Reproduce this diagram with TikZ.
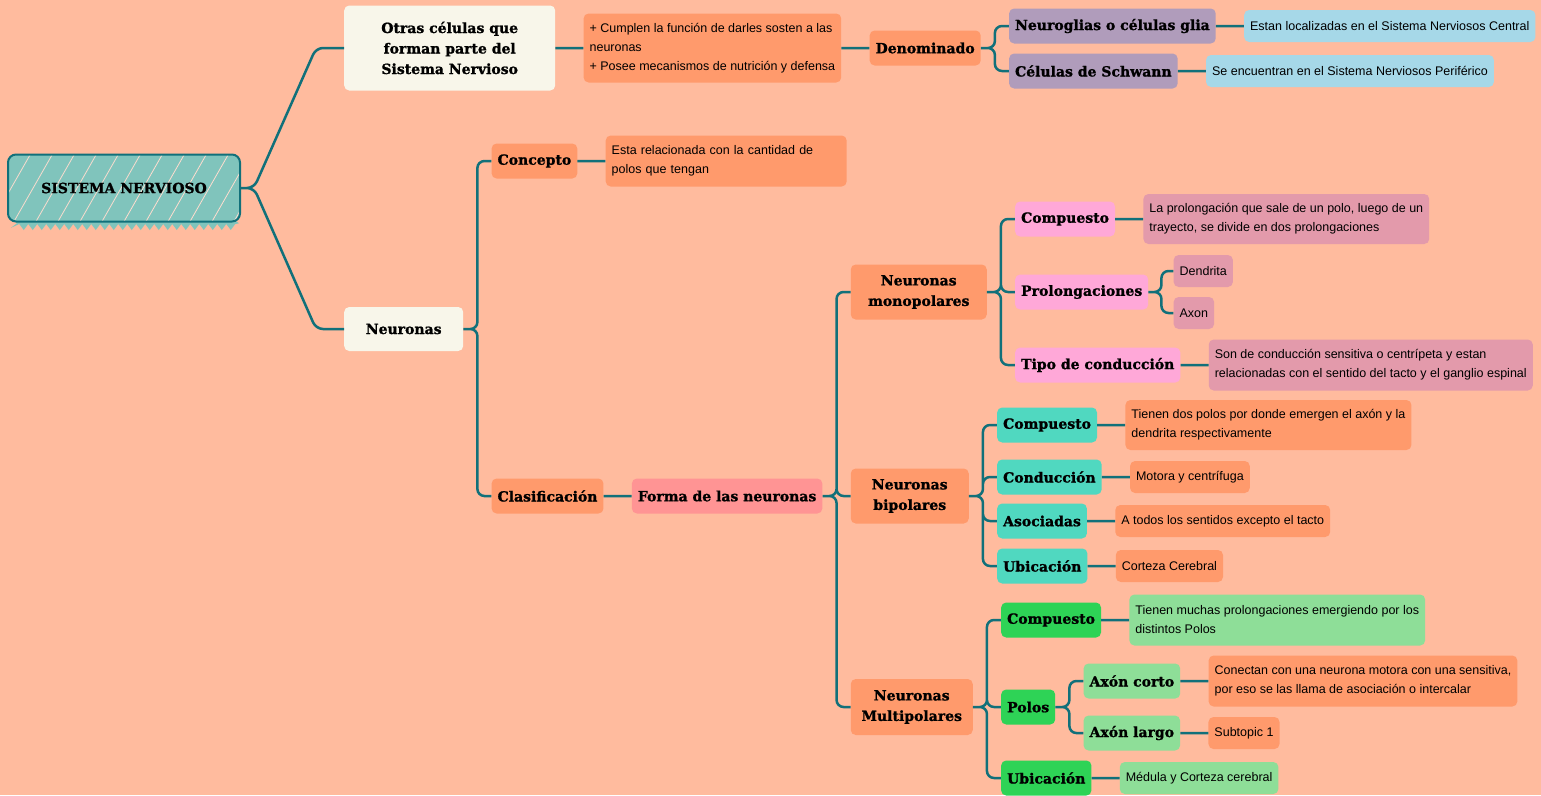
\documentclass[tikz,border=0pt]{standalone}
\usepackage{fontspec}
\setmainfont{Liberation Sans}
\newfontfamily\titlefont{DejaVu Serif}[BoldFeatures={FakeBold=1.2}]
\usetikzlibrary{positioning,decorations.pathmorphing}
\definecolor{bg}{HTML}{FFBB9E}
\definecolor{line}{HTML}{11707A}
\definecolor{rootfill}{HTML}{80C4BC}
\definecolor{cream}{HTML}{F8F6EA}
\definecolor{coral}{HTML}{FF9A6C}
\definecolor{lilac}{HTML}{B09CBB}
\definecolor{sky}{HTML}{A6D8E8}
\definecolor{rose}{HTML}{FF9494}
\definecolor{candy}{HTML}{FFA8D8}
\definecolor{mauve}{HTML}{E39AAB}
\definecolor{mint}{HTML}{50D8C0}
\definecolor{leaf}{HTML}{2ED356}
\definecolor{pale}{HTML}{8EDE98}
\tikzset{node distance=28pt,
  topic/.style={rounded corners=5pt, minimum height=35pt, inner xsep=6pt, align=center,
    font=\titlefont\bfseries\fontsize{14}{20.5}\selectfont},
  detail/.style={fill=coral, rounded corners=5pt, minimum height=32pt, inner xsep=6pt, align=left,
    font=\fontsize{12.5}{19}\selectfont},
  root/.style={draw=line, line width=2pt, fill=rootfill, rounded corners=8pt, minimum width=232pt,
    minimum height=67pt, font=\titlefont\bfseries\fontsize{14}{16}\selectfont,
    path picture={\foreach \s in {-60,-38,...,240}
      \draw[bg!50!white, line width=0.8pt] ([xshift=\s pt]path picture bounding box.south west) -- ++(40pt,70pt);}},
  link/.style={draw=line, line width=2.5pt, rounded corners=7pt}}
\begin{document}
\begin{tikzpicture}[x=1pt,y=-1pt]
\fill[bg] (0,0) rectangle (1541,795);
\useasboundingbox (0,0) rectangle (1541,795);

% root
\fill[rootfill, decorate, decoration={zigzag, segment length=9pt, amplitude=3pt}] (14,158) rectangle (236,227);
\node[root] (root) at (124,188) {SISTEMA NERVIOSO};

% otras celulas
\node[topic, fill=cream, minimum width=211pt, minimum height=85pt] (otras) [right=103pt of root, yshift=140pt] {Otras células que\\forman parte del\\Sistema Nervioso};
\node[detail, minimum height=69pt] (sosten) [right=of otras] {+ Cumplen la función de darles sosten a las\\neuronas\\+ Posee mecanismos de nutrición y defensa};
\node[topic, fill=coral] (denom) [right=of sosten] {Denominado};
\node[topic, fill=lilac] (glia) [right=of denom, yshift=22pt] {Neuroglias o células glia};
\node[topic, fill=lilac] (schw) [right=of denom, yshift=-23pt] {Células de Schwann};
\node[detail, fill=sky] (central) [right=of glia] {Estan localizadas en el Sistema Nerviosos Central};
\node[detail, fill=sky] (perif) [right=of schw] {Se encuentran en el Sistema Nerviosos Periférico};

% neuronas
\node[topic, fill=cream, minimum width=119pt, minimum height=44pt] (neu) [right=103pt of root, yshift=-141pt] {Neuronas};
\node[topic, fill=coral] (concepto) [right=of neu, yshift=168pt] {Concepto};
\node[detail, text width=229pt, minimum height=51pt] (polos) [right=of concepto] {Esta relacionada con la cantidad de\\polos que tengan};
\node[topic, fill=coral] (clasif) [right=of neu, yshift=-167pt] {Clasificación};
\node[topic, fill=rose] (forma) [right=of clasif] {Forma de las neuronas};
\node[topic, fill=coral, minimum width=136pt, minimum height=55pt] (mono) [right=of forma, yshift=204pt] {Neuronas\\monopolares};
\node[topic, fill=coral, minimum width=118pt, minimum height=55pt] (bip) [right=of forma] {Neuronas\\bipolares};
\node[topic, fill=coral, minimum width=122pt, minimum height=56pt] (mult) [right=of forma, yshift=-211pt] {Neuronas\\Multipolares};

% monopolares
\node[topic, fill=candy] (comp1) [right=of mono, yshift=73pt] {Compuesto};
\node[detail, fill=mauve, minimum height=50pt] (comp1d) [right=of comp1] {La prolongación que sale de un polo, luego de un\\trayecto, se divide en dos prolongaciones};
\node[topic, fill=candy] (prol) [right=of mono] {Prolongaciones};
\node[detail, fill=mauve] (dend) [right=25pt of prol, yshift=21pt] {Dendrita};
\node[detail, fill=mauve] (axon) [right=25pt of prol, yshift=-21pt] {Axon};
\node[topic, fill=candy] (tipo) [right=of mono, yshift=-73pt] {Tipo de conducción};
\node[detail, fill=mauve, minimum height=51pt] (tipod) [right=of tipo] {Son de conducción sensitiva o centrípeta y estan\\relacionadas con el sentido del tacto y el ganglio espinal};

% bipolares
\node[topic, fill=mint] (comp2) [right=of bip, yshift=71pt] {Compuesto};
\node[detail, minimum height=50pt] (comp2d) [right=of comp2] {Tienen dos polos por donde emergen el axón y la\\dendrita respectivamente};
\node[topic, fill=mint] (cond) [right=of bip, yshift=19pt] {Conducción};
\node[detail] (condd) [right=of cond] {Motora y centrífuga};
\node[topic, fill=mint] (asoc) [right=of bip, yshift=-25pt] {Asociadas};
\node[detail] (asocd) [right=of asoc] {A todos los sentidos excepto el tacto};
\node[topic, fill=mint] (ubi2) [right=of bip, yshift=-70pt] {Ubicación};
\node[detail] (ubi2d) [right=of ubi2] {Corteza Cerebral};

% multipolares
\node[topic, fill=leaf] (comp3) [right=of mult, yshift=87pt] {Compuesto};
\node[detail, fill=pale, minimum height=51pt] (comp3d) [right=of comp3] {Tienen muchas prolongaciones emergiendo por los\\distintos Polos};
\node[topic, fill=leaf] (polo) [right=of mult] {Polos};
\node[topic, fill=pale] (corto) [right=of polo, yshift=26pt] {Axón corto};
\node[detail, minimum height=51pt] (cortod) [right=of corto] {Conectan con una neurona motora con una sensitiva,\\por eso se las llama de asociación o intercalar};
\node[topic, fill=pale] (largo) [right=of polo, yshift=-26pt] {Axón largo};
\node[detail] (largod) [right=of largo] {Subtopic 1};
\node[topic, fill=leaf] (ubi3) [right=of mult, yshift=-71pt] {Ubicación};
\node[detail, fill=pale] (ubi3d) [right=of ubi3] {Médula y Corteza cerebral};

\path[link]
  (root.east) -- ++(13pt,0) -- ([xshift=-28pt]otras.west) -- (otras.west)
  (root.east) -- ++(13pt,0) -- ([xshift=-28pt]neu.west) -- (neu.west)
  (otras) -- (sosten)
  (sosten) -- (denom)
  (denom.east) -| ([xshift=-14pt]glia.west) -- (glia.west)
  (denom.east) -| ([xshift=-14pt]schw.west) -- (schw.west)
  (glia) -- (central)
  (schw) -- (perif)
  (neu.east) -| ([xshift=-14pt]concepto.west) -- (concepto.west)
  (neu.east) -| ([xshift=-14pt]clasif.west) -- (clasif.west)
  (concepto) -- (polos)
  (clasif) -- (forma)
  (forma.east) -| ([xshift=-14pt]mono.west) -- (mono.west)
  (forma.east) -| ([xshift=-14pt]bip.west) -- (bip.west)
  (forma.east) -| ([xshift=-14pt]mult.west) -- (mult.west)
  (mono.east) -| ([xshift=-14pt]comp1.west) -- (comp1.west)
  (mono.east) -| ([xshift=-14pt]prol.west) -- (prol.west)
  (mono.east) -| ([xshift=-14pt]tipo.west) -- (tipo.west)
  (comp1) -- (comp1d)
  (prol.east) -| ([xshift=-12pt]dend.west) -- (dend.west)
  (prol.east) -| ([xshift=-12pt]axon.west) -- (axon.west)
  (tipo) -- (tipod)
  (bip.east) -| ([xshift=-14pt]comp2.west) -- (comp2.west)
  (bip.east) -| ([xshift=-14pt]cond.west) -- (cond.west)
  (bip.east) -| ([xshift=-14pt]asoc.west) -- (asoc.west)
  (bip.east) -| ([xshift=-14pt]ubi2.west) -- (ubi2.west)
  (comp2) -- (comp2d)
  (cond) -- (condd)
  (asoc) -- (asocd)
  (ubi2) -- (ubi2d)
  (mult.east) -| ([xshift=-14pt]comp3.west) -- (comp3.west)
  (mult.east) -| ([xshift=-14pt]polo.west) -- (polo.west)
  (mult.east) -| ([xshift=-14pt]ubi3.west) -- (ubi3.west)
  (comp3) -- (comp3d)
  (polo.east) -| ([xshift=-14pt]corto.west) -- (corto.west)
  (polo.east) -| ([xshift=-14pt]largo.west) -- (largo.west)
  (corto) -- (cortod)
  (largo) -- (largod)
  (ubi3) -- (ubi3d);
\end{tikzpicture}
\end{document}
